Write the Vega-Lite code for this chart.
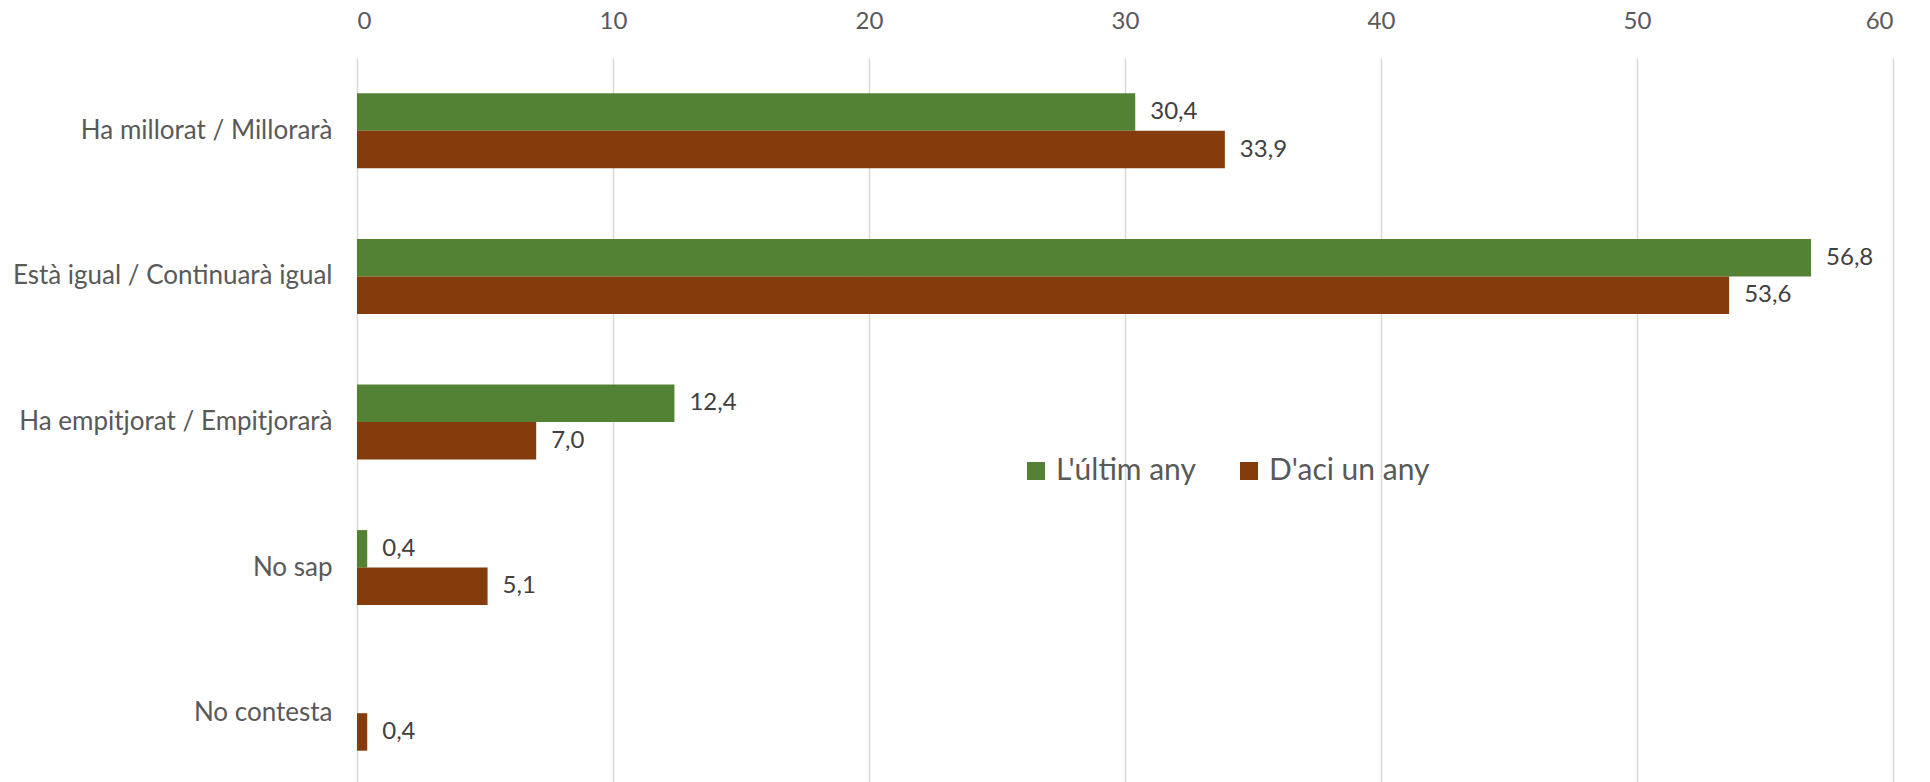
{
  "$schema": "https://vega.github.io/schema/vega-lite/v6.json",
  "width": 1536,
  "height": 728,
  "autosize": "none",
  "padding": {"left": 357, "top": 58, "right": 37, "bottom": 0},
  "background": "white",
  "config": {
    "view": {"stroke": null},
    "font": "Lato",
    "locale": {"number": {"decimal": ",", "thousands": ".", "grouping": [3], "currency": ["", " €"]}}
  },
  "data": {
    "values": [
      {"categoria": "Ha millorat / Millorarà", "serie": "L'últim any", "valor": 30.4},
      {"categoria": "Ha millorat / Millorarà", "serie": "D'aci un any", "valor": 33.9},
      {"categoria": "Està igual / Continuarà igual", "serie": "L'últim any", "valor": 56.8},
      {"categoria": "Està igual / Continuarà igual", "serie": "D'aci un any", "valor": 53.6},
      {"categoria": "Ha empitjorat / Empitjorarà", "serie": "L'últim any", "valor": 12.4},
      {"categoria": "Ha empitjorat / Empitjorarà", "serie": "D'aci un any", "valor": 7.0},
      {"categoria": "No sap", "serie": "L'últim any", "valor": 0.4},
      {"categoria": "No sap", "serie": "D'aci un any", "valor": 5.1},
      {"categoria": "No contesta", "serie": "D'aci un any", "valor": 0.4}
    ]
  },
  "encoding": {
    "y": {
      "field": "categoria",
      "type": "nominal",
      "sort": ["Ha millorat / Millorarà", "Està igual / Continuarà igual", "Ha empitjorat / Empitjorarà", "No sap", "No contesta"],
      "scale": {"paddingInner": 0.485, "paddingOuter": 0.2425},
      "axis": {
        "title": null,
        "domain": false,
        "ticks": false,
        "grid": false,
        "labelFontSize": 26,
        "labelColor": "#595959",
        "labelPadding": 25,
        "labelLimit": 0
      }
    },
    "yOffset": {
      "field": "serie",
      "type": "nominal",
      "sort": ["L'últim any", "D'aci un any"],
      "scale": {"domain": ["L'últim any", "D'aci un any"], "paddingInner": 0, "paddingOuter": 0}
    },
    "x": {
      "field": "valor",
      "type": "quantitative",
      "scale": {"domain": [0, 60], "nice": false},
      "axis": {
        "orient": "top",
        "title": null,
        "values": [0, 10, 20, 30, 40, 50, 60],
        "format": "d",
        "domain": false,
        "ticks": false,
        "grid": true,
        "gridColor": "#d9d9d9",
        "gridWidth": 1.5,
        "labelFontSize": 24,
        "labelColor": "#595959",
        "labelPadding": 25
      }
    }
  },
  "layer": [
    {
      "mark": {"type": "bar"},
      "encoding": {
        "color": {
          "field": "serie",
          "type": "nominal",
          "scale": {"domain": ["L'últim any", "D'aci un any"], "range": ["#548235", "#843C0C"]},
          "legend": {
            "orient": "none",
            "legendX": 664,
            "legendY": 398,
            "direction": "horizontal",
            "title": null,
            "labelFontSize": 30,
            "labelColor": "#595959",
            "symbolType": "square",
            "symbolSize": 324,
            "symbolStrokeWidth": 0,
            "symbolOpacity": 1,
            "columnPadding": 38,
            "labelOffset": 5,
            "labelLimit": 0
          }
        }
      }
    },
    {
      "mark": {"type": "text", "align": "left", "baseline": "middle", "dx": 15, "fontSize": 24, "color": "#404040"},
      "encoding": {
        "text": {"field": "valor", "type": "quantitative", "format": ".1f"}
      }
    }
  ]
}
